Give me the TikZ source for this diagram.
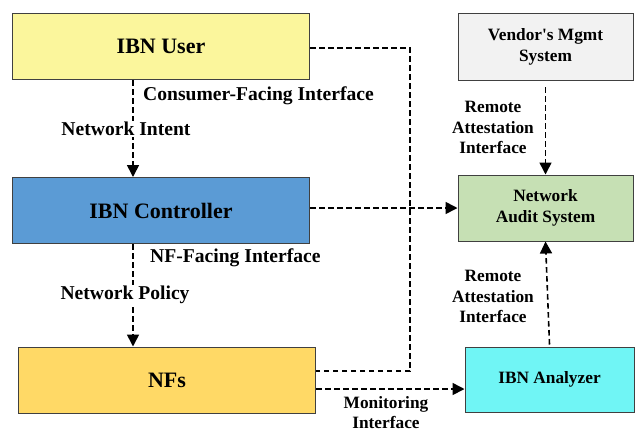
\documentclass[tikz,border=0pt]{standalone}
\usepackage{fontspec}
\setmainfont{Liberation Serif}
\usetikzlibrary{arrows.meta}
\definecolor{userfill}{HTML}{FBF69C}
\definecolor{ctrlfill}{HTML}{5B9BD5}
\definecolor{nffill}{HTML}{FFD966}
\definecolor{vendorfill}{HTML}{F2F2F2}
\definecolor{auditfill}{HTML}{C6E0B4}
\definecolor{analyzerfill}{HTML}{70F5F5}
\definecolor{boxline}{HTML}{404040}
\begin{document}
\begin{tikzpicture}[x=1pt, y=-1pt, font=\bfseries, line join=miter,
	box/.style={draw=boxline, line width=1pt, inner sep=0pt, align=center},
	bigbox/.style={box, minimum width=297pt, minimum height=66pt, font=\fontsize{22}{24}\selectfont\bfseries},
	smallbox/.style={box, minimum width=175pt, minimum height=67pt, font=\fontsize{17.3}{21}\selectfont\bfseries},
	link/.style={dash pattern=on 5.5pt off 3.5pt, line width=1.6pt},
	arrow/.style={link, -{Triangle[length=12pt, width=12pt]}},
	tag/.style={font=\fontsize{19.6}{22}\selectfont\bfseries, inner sep=1pt},
	note/.style={font=\fontsize{17.3}{20.5}\selectfont\bfseries, align=center, inner sep=1pt}]
	
	\useasboundingbox (0, 0) rectangle (636, 432);
	
	% left column
	\node[bigbox, fill=userfill] (user) at (161, 46.5) {IBN User};
	\node[bigbox, fill=ctrlfill] (ctrl) at (161, 210.5) {IBN Controller};
	\node[bigbox, fill=nffill] (nfs) at (167, 380) {NFs};
	
	% right column
	\node[smallbox, fill=vendorfill] (vendor) at (545.5, 47) {Vendor\textquotesingle s Mgmt\\System};
	\node[smallbox, fill=auditfill, minimum height=66pt] (audit) at (545.5, 208) {Network\\Audit System};
	\node[smallbox, fill=analyzerfill, minimum width=169pt, minimum height=65pt] (analyzer) at (549.5, 379.5) {IBN Analyzer};
	
	\coordinate (down) at (133, 0);
	\coordinate (bus) at (410, 208);
	
	% vertical arrows on the left
	\draw[arrow] (user.south -| down) -- (ctrl.north -| down);
	\draw[arrow] (ctrl.south -| down) -- (nfs.north -| down);
	\node[tag, anchor=west] (cfi) at (142, 96) {Consumer-Facing Interface};
	\node[tag, fill=white] (intent) at (126, 129) {Network Intent};
	\node[tag, anchor=west] (nfi) at (149, 258) {NF-Facing Interface};
	\node[tag, fill=white] (policy) at (125, 295) {Network Policy};
	
	% links to the audit side
	\draw[link] ([yshift=-1.5pt]user.east) -| (bus) |- ([yshift=9pt]nfs.east);
	\draw[arrow] (ctrl.east |- bus) -- (audit.west |- bus);
	\draw[arrow] ([yshift=-9pt]nfs.east) -- ([yshift=-9pt]nfs.east -| analyzer.west);
	\node[note] (monitor) at (386, 412.5) {Monitoring\\Interface};
	
	% vertical arrows on the right
	\draw[arrow] ([yshift=-6pt]vendor.south) -- (audit.north);
	\draw[arrow] ([yshift=2pt]analyzer.north) -- (audit.south);
	\node[note] (ra1) at (493, 127.5) {Remote\\Attestation\\Interface};
	\node[note] (ra2) at (493, 296.5) {Remote\\Attestation\\Interface};
\end{tikzpicture}
\end{document}
